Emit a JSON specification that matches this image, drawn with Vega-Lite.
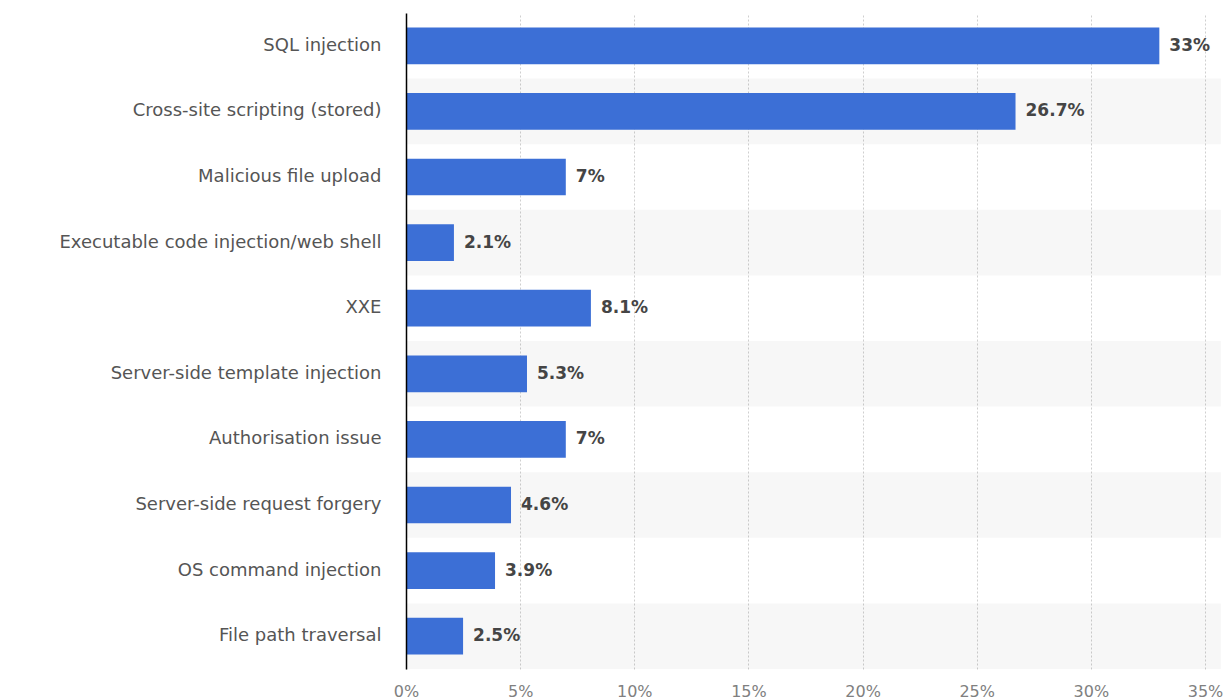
{
  "$schema": "https://vega.github.io/schema/vega-lite/v6.json",
  "width": 799,
  "height": 656,
  "autosize": "none",
  "padding": {"left": 406, "top": 13, "right": 22, "bottom": 31},
  "background": "white",
  "config": {"view": {"stroke": null}, "font": "DejaVu Sans"},
  "data": {"values": [
    {"category": "SQL injection", "value": 33, "row": 1},
    {"category": "Cross-site scripting (stored)", "value": 26.7, "row": 2},
    {"category": "Malicious file upload", "value": 7, "row": 3},
    {"category": "Executable code injection/web shell", "value": 2.1, "row": 4},
    {"category": "XXE", "value": 8.1, "row": 5},
    {"category": "Server-side template injection", "value": 5.3, "row": 6},
    {"category": "Authorisation issue", "value": 7, "row": 7},
    {"category": "Server-side request forgery", "value": 4.6, "row": 8},
    {"category": "OS command injection", "value": 3.9, "row": 9},
    {"category": "File path traversal", "value": 2.5, "row": 10}
  ]},
  "transform": [{"calculate": "datum.value + '%'", "as": "label"}],
  "encoding": {
    "y": {
      "field": "category", "type": "nominal",
      "sort": ["SQL injection", "Cross-site scripting (stored)", "Malicious file upload", "Executable code injection/web shell", "XXE", "Server-side template injection", "Authorisation issue", "Server-side request forgery", "OS command injection", "File path traversal"],
      "scale": {"paddingInner": 0, "paddingOuter": 0},
      "axis": {"title": null, "ticks": false, "domain": true, "domainColor": "#000000", "domainWidth": 1.5, "zindex": 1,
               "labelFontSize": 18, "labelColor": "#555555", "labelPadding": 25, "labelFont": "DejaVu Sans", "labelLimit": 0}
    }
  },
  "layer": [
    {
      "transform": [{"filter": "datum.row % 2 == 0"}],
      "mark": {"type": "bar", "color": "#000000", "opacity": 0.03, "clip": false},
      "encoding": {
        "x": {"datum": 0, "type": "quantitative"},
        "x2": {"datum": 35.7}
      }
    },
    {
      "mark": {"type": "bar", "color": "#3c6fd6", "height": {"band": 0.56}},
      "encoding": {
        "x": {"field": "value", "type": "quantitative",
              "scale": {"domain": [0, 35], "nice": false},
              "axis": {"title": null, "values": [0, 5, 10, 15, 20, 25, 30, 35], "labelExpr": "datum.value + '%'",
                       "grid": true, "gridDash": [2, 2], "gridColor": "#cfcfcf", "gridWidth": 1,
                       "domain": false, "ticks": false, "labelFontSize": 16, "labelColor": "#808080", "labelFlush": false,
                       "labelPadding": 14, "labelFont": "DejaVu Sans"}}
      }
    },
    {
      "mark": {"type": "text", "align": "left", "dx": 10, "fontSize": 17, "fontWeight": "bold", "color": "#454545", "font": "DejaVu Sans"},
      "encoding": {
        "x": {"field": "value", "type": "quantitative"},
        "text": {"field": "label"}
      }
    }
  ]
}
